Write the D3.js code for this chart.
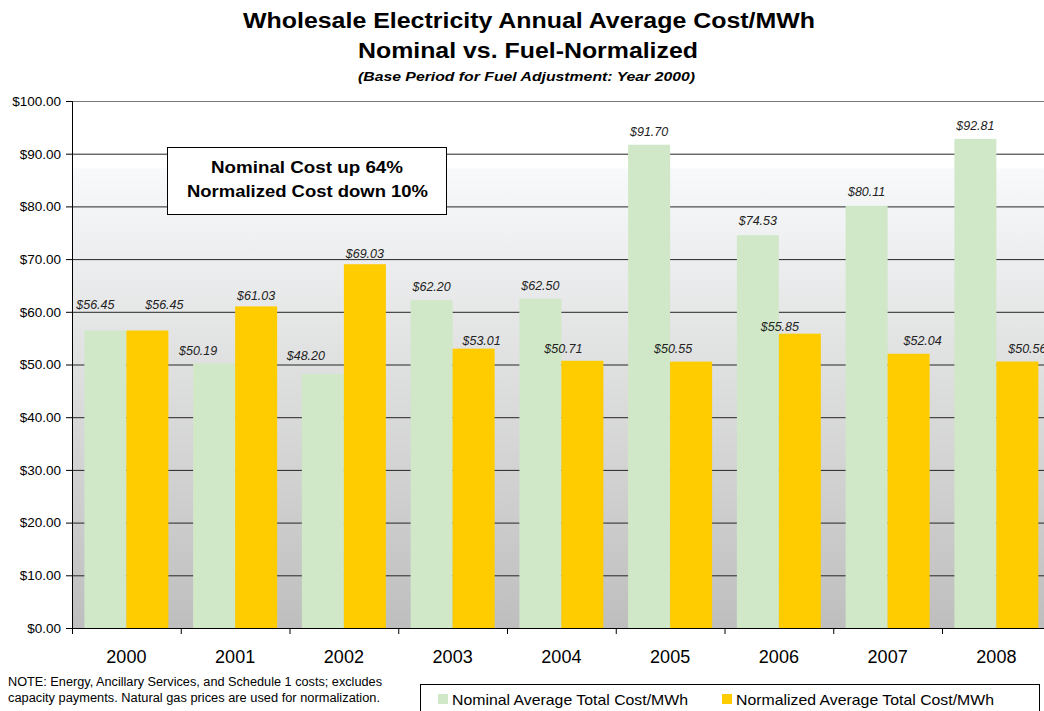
<!DOCTYPE html>
<html><head><meta charset="utf-8">
<script src="https://cdn.jsdelivr.net/npm/d3@7"></script>
<style>body{margin:0;background:#fff;overflow:hidden}svg{display:block;font-family:Arial,"Liberation Sans",sans-serif}</style>
</head><body>
<svg id="c" width="1044" height="711"></svg>
<script>
const years = ["2000","2001","2002","2003","2004","2005","2006","2007","2008"];
const nominal = [56.45,50.19,48.20,62.20,62.50,91.70,74.53,80.11,92.81];
const normalized = [56.45,61.03,69.03,53.01,50.71,50.55,55.85,52.04,50.56];
const yTicks = [0,10,20,30,40,50,60,70,80,90,100];
const seriesNames = ["Nominal Average Total Cost/MWh","Normalized Average Total Cost/MWh"];
const colors = ["#d0e8c8","#ffcc00"];

// label placement nudges (pixels: [dx, lift above bar top]) to mirror the hand-placed labels
const nudgeNominal = [[-10,22],[-16,8.5],[-17,14],[0,9],[0,9],[0,9],[0,10],[0,10],[0,9]];
const nudgeNormalized = [[17,22],[0,6],[0,6],[8,4],[-19,8],[-18,9],[-20,3],[14,9],[10,9]];

const svg = d3.select("#c");
const L = 72, T = 101, B = 628, band = 108.75;
const R = L + band*years.length;
const x = d3.scaleBand().domain(years).range([L,R]).paddingInner(0).paddingOuter(0);
const y = d3.scaleLinear().domain([0,100]).range([B,T]);
const inner = d3.scaleBand().domain([0,1]).range([0,band]).paddingInner(0).paddingOuter(0.295);

const defs = svg.append("defs");
const g = defs.append("linearGradient").attr("id","bg").attr("x1",0).attr("y1",0).attr("x2",0).attr("y2",1);
g.append("stop").attr("offset","0%").attr("stop-color","#ffffff");
g.append("stop").attr("offset","12.5%").attr("stop-color","#ffffff");
g.append("stop").attr("offset","13%").attr("stop-color","#f8f9fa");
g.append("stop").attr("offset","100%").attr("stop-color","#bebebe");

svg.append("rect").attr("x",L).attr("y",T).attr("width",R-L).attr("height",B-T).attr("fill","url(#bg)");

// gridlines
svg.append("g").selectAll("line").data(yTicks.filter(d=>d>0)).join("line")
  .attr("x1",L).attr("x2",R).attr("y1",d=>y(d)+0.5).attr("y2",d=>y(d)+0.5)
  .attr("stroke",d=>d===100?"#777":"#262626").attr("stroke-width",1);

// bars
const grp = svg.append("g").selectAll("g").data(years).join("g").attr("transform",d=>`translate(${x(d)},0)`);
grp.each(function(yr,i){
  const vals=[nominal[i],normalized[i]];
  const nud=[nudgeNominal[i],nudgeNormalized[i]];
  d3.select(this).selectAll("rect").data(vals).join("rect")
    .attr("x",(v,k)=>inner(k)).attr("width",inner.bandwidth())
    .attr("y",v=>y(v)).attr("height",v=>B-y(v)).attr("fill",(v,k)=>colors[k]);
  d3.select(this).selectAll("text").data(vals).join("text")
    .attr("x",(v,k)=>inner(k)+inner.bandwidth()/2+nud[k][0])
    .attr("y",(v,k)=>y(v)-nud[k][1])
    .attr("text-anchor","middle").attr("font-size",12.5).attr("font-style","italic").attr("fill","#222")
    .text(v=>"$"+v.toFixed(2));
});

// y axis
const ya = svg.append("g").attr("transform",`translate(${L},0)`)
  .call(d3.axisLeft(y).tickValues(yTicks).tickSize(6).tickFormat(d=>"$"+d.toFixed(2)));
ya.select(".domain").attr("stroke","#000");
ya.selectAll(".tick line").attr("stroke","#000");
ya.selectAll("text").attr("font-size",13.5).attr("fill","#000").attr("font-family","Arial").attr("dx",-2);

// x axis
const xa = svg.append("g").attr("transform",`translate(0,${B})`)
  .call(d3.axisBottom(x).tickSize(0).tickPadding(22));
xa.select(".domain").attr("stroke","#000");
xa.selectAll("text").attr("font-size",18).attr("fill","#000").attr("font-family","Arial");
svg.append("g").selectAll("line").data(years).join("line")
  .attr("x1",d=>x(d)+0.5).attr("x2",d=>x(d)+0.5).attr("y1",B).attr("y2",B+6).attr("stroke","#000");

// title
const tt = svg.append("g").attr("fill","#000");
tt.append("text").attr("x",243).attr("y",28).attr("font-size",22).attr("font-weight","bold")
  .attr("textLength",572).attr("lengthAdjust","spacingAndGlyphs").text("Wholesale Electricity Annual Average Cost/MWh");
tt.append("text").attr("x",358).attr("y",58).attr("font-size",22).attr("font-weight","bold")
  .attr("textLength",340).attr("lengthAdjust","spacingAndGlyphs").text("Nominal vs. Fuel-Normalized");
tt.append("text").attr("x",358).attr("y",81).attr("font-size",12).attr("font-weight","bold").attr("font-style","italic")
  .attr("textLength",337).attr("lengthAdjust","spacingAndGlyphs").text("(Base Period for Fuel Adjustment: Year 2000)");

// annotation
svg.append("rect").attr("x",167.5).attr("y",147.5).attr("width",279).attr("height",67).attr("fill","#fff").attr("stroke","#000");
const an = svg.append("g").attr("font-size",17).attr("font-weight","bold");
an.append("text").attr("x",211).attr("y",173).attr("textLength",192).attr("lengthAdjust","spacingAndGlyphs").text("Nominal Cost up 64%");
an.append("text").attr("x",187).attr("y",197).attr("textLength",241).attr("lengthAdjust","spacingAndGlyphs").text("Normalized Cost down 10%");

// note
const nt = svg.append("g").attr("font-size",12).attr("fill","#000");
nt.append("text").attr("x",8).attr("y",686).attr("textLength",374).attr("lengthAdjust","spacingAndGlyphs").text("NOTE: Energy, Ancillary Services, and Schedule 1 costs; excludes");
nt.append("text").attr("x",8).attr("y",702).attr("textLength",372).attr("lengthAdjust","spacingAndGlyphs").text("capacity payments. Natural gas prices are used for normalization.");

// legend
svg.append("rect").attr("x",420.5).attr("y",684.5).attr("width",619).attr("height",40).attr("fill","#fff").attr("stroke","#000");
const lg = svg.append("g").selectAll("g").data(seriesNames).join("g")
  .attr("transform",(d,i)=>`translate(${i===0?438:722},0)`);
lg.append("rect").attr("x",0).attr("y",694).attr("width",10).attr("height",10).attr("fill",(d,i)=>colors[i]);
lg.append("text").attr("x",14).attr("y",705).attr("font-size",15).attr("fill","#000")
  .attr("textLength",(d,i)=>i===0?236:258).attr("lengthAdjust","spacingAndGlyphs").text(d=>d);
</script>
</body></html>
